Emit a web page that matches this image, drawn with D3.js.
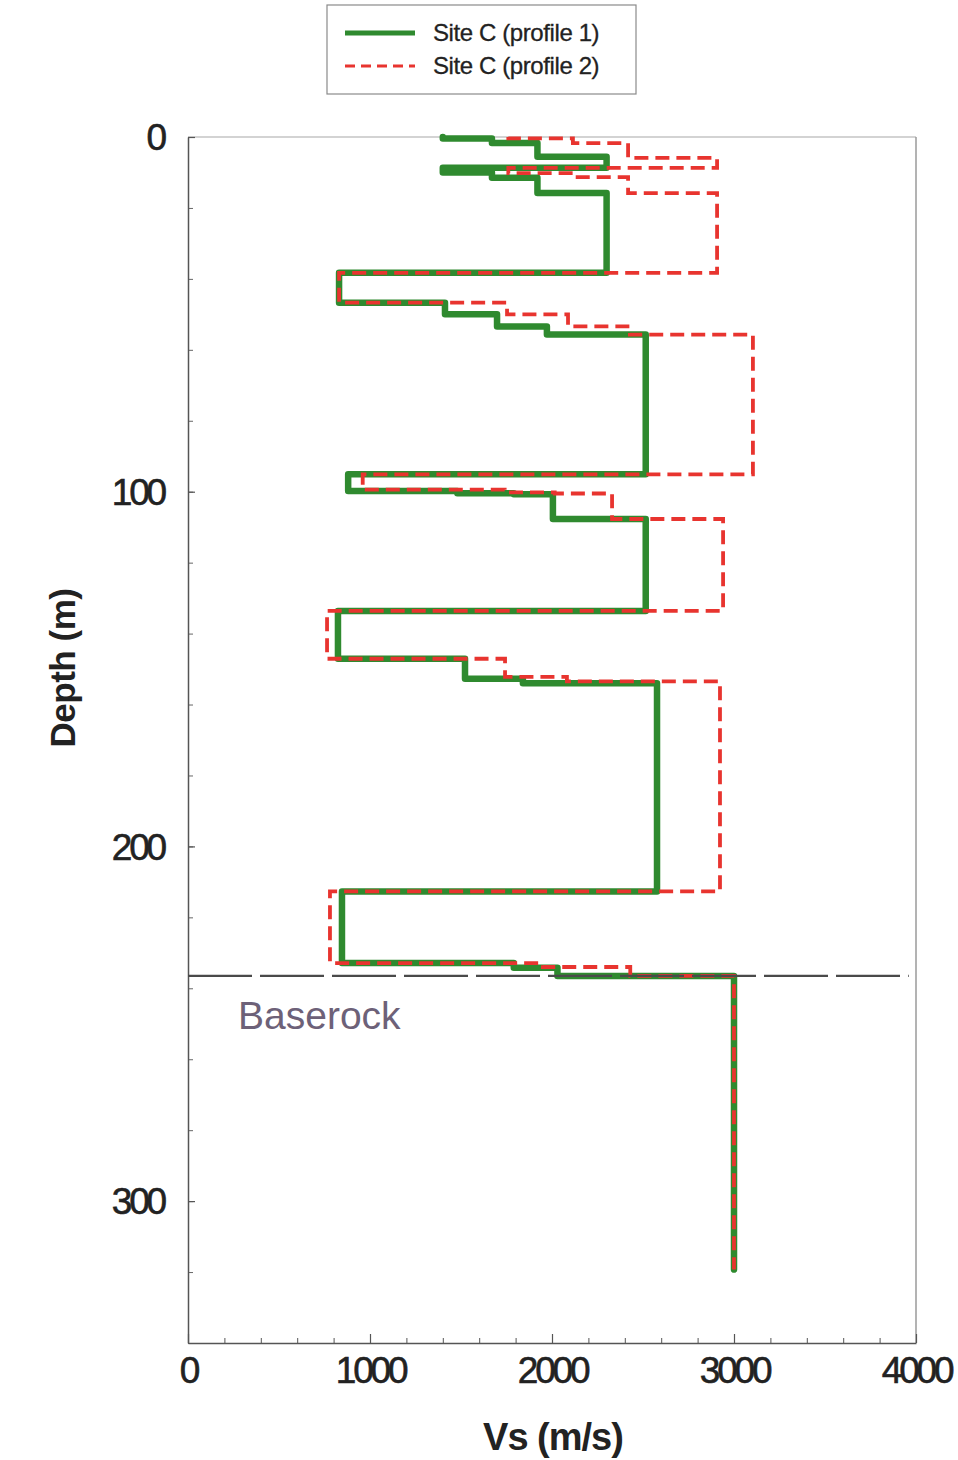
<!DOCTYPE html>
<html>
<head>
<meta charset="utf-8">
<script src="https://cdn.jsdelivr.net/npm/d3@7"></script>
<style>
  body { margin: 0; background: #fff; }
  svg text { font-family: "Liberation Sans", Arial, sans-serif; }
</style>
</head>
<body>
<div id="chart"></div>
<script>
// layer boundaries (m) and shear wave velocity of each layer (m/s)
const p1Depth = [0, 0.4, 1.7, 5.6, 8.7, 10.0, 11.5, 15.8, 38.3, 46.7, 50.0, 53.4, 55.7, 95.1, 99.8, 100.4, 100.7, 107.7, 133.6, 147.1, 152.7, 154.0, 212.7, 232.9, 234.2, 236.5, 319.3];
const p1Vs = [1400, 1670, 1920, 2300, 1400, 1670, 1920, 2300, 830, 1412, 1698, 1972, 2515, 880, 1480, 1790, 2005, 2515, 824, 1522, 1840, 2577, 846, 1790, 2030, 3000];

const p2Depth = [0, 0.4, 1.7, 5.9, 8.7, 10.2, 11.3, 15.8, 38.3, 46.7, 50.0, 53.4, 55.7, 95.1, 99.4, 100.2, 100.5, 107.7, 133.6, 147.1, 152.2, 153.5, 212.7, 232.9, 234.0, 236.5, 319.3];
const p2Vs = [1760, 2115, 2418, 2907, 1760, 2115, 2418, 2907, 830, 1753, 2088, 2428, 3104, 960, 1740, 2015, 2330, 2940, 764, 1742, 2082, 2923, 780, 1950, 2430, 3000];

const seriesNames = ["Site C (profile 1)", "Site C (profile 2)"];
const baserockDepth = 236.5;
const xTicks = [0, 1000, 2000, 3000, 4000];
const yTicks = [0, 100, 200, 300];

const W = 958, H = 1460;
const margin = { top: 137, right: 42, bottom: 117, left: 188 };
const width = W - margin.left - margin.right,
  height = H - margin.top - margin.bottom;

const svg = d3.select("#chart").append("svg")
  .attr("width", W).attr("height", H);

const g = svg.append("g")
  .attr("transform", `translate(${margin.left},${margin.top})`);

const x = d3.scaleLinear().domain([0, 4000]).range([0, width]);
const y = d3.scaleLinear().domain([0, 340]).range([0, height]);

// frame (top/right light)
g.append("line").attr("x1", 0).attr("x2", width).attr("y1", 0).attr("y2", 0)
  .attr("stroke", "#c4c4c4").attr("stroke-width", 1.5);
g.append("line").attr("x1", width).attr("x2", width).attr("y1", 0).attr("y2", height)
  .attr("stroke", "#9a9a9a").attr("stroke-width", 1.5);

// axes with ticks pointing inward
function styleAxis(sel) {
  sel.select(".domain").attr("stroke", "#555").attr("stroke-width", 1.5);
  sel.selectAll(".tick line").attr("stroke", "#555").attr("stroke-width", 1.2);
  sel.selectAll("text").attr("font-size", 37).attr("fill", "#222")
    .attr("stroke", "#222").attr("stroke-width", 0.6)
    .attr("letter-spacing", -3.2);
}

const xMinor = g.append("g").attr("transform", `translate(0,${height})`)
  .call(d3.axisTop(x).tickValues(d3.range(0, 4001, 200)).tickSize(5).tickFormat(""));
xMinor.select(".domain").remove();
xMinor.selectAll(".tick line").attr("stroke", "#555");

const yMinor = g.append("g")
  .call(d3.axisRight(y).tickValues(d3.range(0, 341, 20)).tickSize(5).tickFormat(""));
yMinor.select(".domain").remove();
yMinor.selectAll(".tick line").attr("stroke", "#666");

const xAxis = g.append("g").attr("transform", `translate(0,${height})`)
  .call(d3.axisTop(x).tickValues(xTicks).tickSize(9).tickSizeOuter(0).tickFormat(d3.format("d")));
xAxis.selectAll("text").attr("y", 40).attr("dy", 0);
styleAxis(xAxis);

const yAxis = g.append("g")
  .call(d3.axisRight(y).tickValues(yTicks).tickSize(7).tickSizeOuter(0).tickFormat(d3.format("d")));
yAxis.selectAll("text").attr("x", -24).attr("dy", "0.34em").attr("text-anchor", "end");
styleAxis(yAxis);

// step profiles
function steps(depths, vs) {
  const pts = [];
  vs.forEach((v, i) => {
    pts.push([v, depths[i]]);
    pts.push([v, depths[i + 1]]);
  });
  return pts;
}
const line = d3.line().x(d => x(d[0])).y(d => y(d[1]));

g.append("path").datum(steps(p1Depth, p1Vs))
  .attr("d", line).attr("fill", "none")
  .attr("stroke", "#2f8a2f").attr("stroke-width", 6.5)
  .attr("stroke-linejoin", "round").attr("stroke-linecap", "round");

g.append("path").datum(steps(p2Depth, p2Vs))
  .attr("d", line).attr("fill", "none")
  .attr("stroke", "#e8342f").attr("stroke-width", 3.8)
  .attr("stroke-dasharray", "14,7");

// baserock line
g.append("line")
  .attr("x1", x(0)).attr("x2", x(3960))
  .attr("y1", y(baserockDepth)).attr("y2", y(baserockDepth))
  .attr("stroke", "#4a4a4a").attr("stroke-width", 2.2)
  .attr("stroke-dasharray", "64,8");

g.append("text")
  .attr("x", x(275)).attr("y", y(baserockDepth) + 53)
  .attr("font-size", 39).attr("fill", "#6d6178")
  .text("Baserock");

// axis titles
svg.append("text")
  .attr("x", 553).attr("y", 1450)
  .attr("text-anchor", "middle").attr("font-size", 38).attr("font-weight", "bold")
  .attr("fill", "#222").attr("letter-spacing", -1)
  .text("Vs (m/s)");

svg.append("text")
  .attr("transform", "translate(75,668) rotate(-90)")
  .attr("text-anchor", "middle").attr("font-size", 35).attr("font-weight", "bold")
  .attr("fill", "#222").attr("letter-spacing", -0.5)
  .text("Depth (m)");

// legend
const legend = svg.append("g");
legend.append("rect")
  .attr("x", 327).attr("y", 5).attr("width", 309).attr("height", 89)
  .attr("fill", "#fff").attr("stroke", "#8a8a8a").attr("stroke-width", 1.2);

const legStyles = [
  { color: "#2f8a2f", w: 5, dash: null },
  { color: "#e8342f", w: 3, dash: "10,6" }
];
seriesNames.forEach((name, i) => {
  const cy = 33 + i * 33;
  legend.append("line")
    .attr("x1", 345).attr("x2", 415).attr("y1", cy).attr("y2", cy)
    .attr("stroke", legStyles[i].color).attr("stroke-width", legStyles[i].w)
    .attr("stroke-dasharray", legStyles[i].dash);
  legend.append("text")
    .attr("x", 433).attr("y", cy + 8)
    .attr("font-size", 24).attr("fill", "#222").attr("letter-spacing", -0.4)
    .attr("stroke", "#222").attr("stroke-width", 0.3)
    .text(name);
});
</script>
</body>
</html>
